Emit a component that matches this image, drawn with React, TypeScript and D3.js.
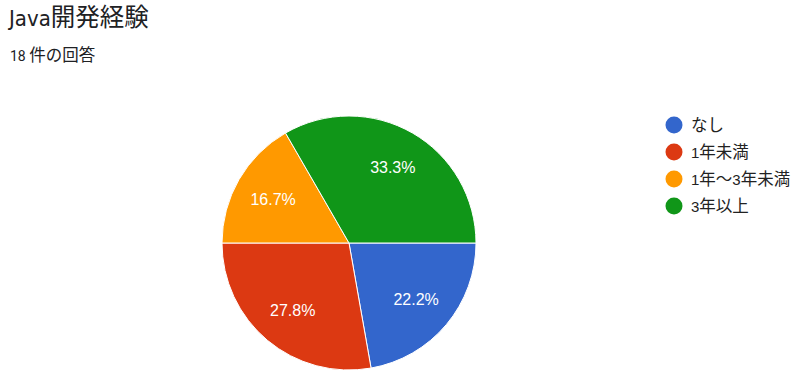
import React from "react";
import * as d3 from "d3";

const categories = ["なし", "1年未満", "1年～3年未満", "3年以上"];
const counts = [4, 5, 3, 6];
const colors = ["#3366cc", "#dc3912", "#ff9900", "#109618"];
const title = "Java開発経験";
const subtitle = "18 件の回答";

const W = 800;
const H = 387;
const cx = 349;
const cy = 243;
const R = 127;
const latin = "Roboto, Arial, sans-serif";
const narrow = "'Liberation Sans Narrow', 'Arial Narrow', 'DejaVu Sans Condensed', Roboto, sans-serif";
const arial = "Arial, 'Liberation Sans', sans-serif";
const cjk = "'Noto Sans CJK JP', sans-serif";

// split text into runs of CJK / non-CJK so CJK can be set at its own size
function runs(s: string) {
  const out: { t: string; c: boolean }[] = [];
  for (const ch of s) {
    const c = /[\u3000-\u9fff\uff00-\uffef]/.test(ch);
    if (out.length && out[out.length - 1].c === c) out[out.length - 1].t += ch;
    else out.push({ t: ch, c });
  }
  return out;
}

function Mixed({ s, size, cjkSize, lf }: { s: string; size: number; cjkSize: number; lf: string }) {
  return (
    <>
      {runs(s).map((r, i) => (
        <tspan key={i} fontSize={r.c ? cjkSize : size} fontFamily={r.c ? cjk : lf}>
          {r.t}
        </tspan>
      ))}
    </>
  );
}

export default function App() {
  const total = d3.sum(counts);
  const pie = d3
    .pie<number>()
    .sort(null)
    .startAngle(Math.PI / 2)
    .endAngle(Math.PI / 2 + 2 * Math.PI)(counts);
  const arc = d3.arc<d3.PieArcDatum<number>>().innerRadius(0).outerRadius(R);
  const labelArc = d3.arc<d3.PieArcDatum<number>>().innerRadius(R * 0.69).outerRadius(R * 0.69);
  return (
    <svg width={W} height={H} style={{ position: "absolute", left: 0, top: 0, background: "#fff" }}>
      <text x={9} y={26} fill="#202124">
        <Mixed s={title} size={22} cjkSize={24.5} lf={narrow} />
      </text>
      <text x={10} y={60.5} fill="#202124">
        <Mixed s={subtitle} size={14} cjkSize={16.5} lf={latin} />
      </text>
      <g transform={`translate(${cx},${cy})`}>
        {pie.map((d, i) => (
          <path key={i} d={arc(d) || ""} fill={colors[i]} stroke="#fff" strokeWidth={1} />
        ))}
        {pie.map((d, i) => {
          const [x, y] = labelArc.centroid(d);
          return (
            <text key={i} x={x} y={y} dy="0.36em" textAnchor="middle" fontSize={16} fill="#fff" fontFamily={arial}>
              {((d.value / total) * 100).toFixed(1)}%
            </text>
          );
        })}
      </g>
      <g>
        {categories.map((c, i) => (
          <g key={i} transform={`translate(674,${125 + i * 27})`}>
            <circle r={8.5} fill={colors[i]} />
            <text x={17} dy="0.36em" fill="#222">
              <Mixed s={c} size={15} cjkSize={16.5} lf={arial} />
            </text>
          </g>
        ))}
      </g>
    </svg>
  );
}
